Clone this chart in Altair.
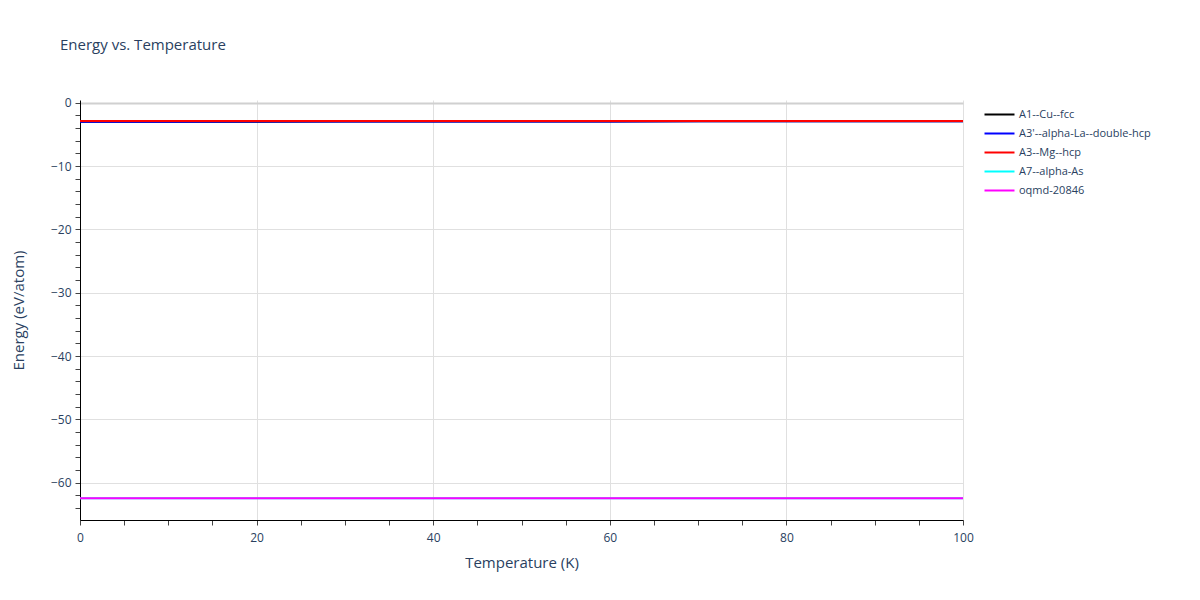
import altair as alt
import pandas as pd

temps = [0, 10, 20, 30, 40, 50, 60, 70, 80, 90, 100]
cu_fcc = [-3.00, -2.99, -2.98, -2.97, -2.96, -2.95, -2.94, -2.93, -2.92, -2.92, -2.91]
la_dhcp = [-2.99, -2.98, -2.97, -2.96, -2.95, -2.95, -2.94, -2.93, -2.92, -2.91, -2.91]
mg_hcp = [-2.88, -2.88, -2.88, -2.88, -2.88, -2.88, -2.88, -2.88, -2.88, -2.88, -2.88]
as_a7 = [-62.46, -62.46, -62.46, -62.46, -62.46, -62.46, -62.46, -62.46, -62.46, -62.46, -62.46]
oqmd = [-62.46, -62.46, -62.46, -62.46, -62.46, -62.46, -62.46, -62.46, -62.46, -62.46, -62.45]

series_names = ["A1--Cu--fcc", "A3'--alpha-La--double-hcp", "A3--Mg--hcp", "A7--alpha-As", "oqmd-20846"]
series_colors = ["#000000", "#0000ff", "#ff0000", "#00ffff", "#ff00ff"]
series_values = [cu_fcc, la_dhcp, mg_hcp, as_a7, oqmd]

rows = []
for name, vals in zip(series_names, series_values):
    for t, v in zip(temps, vals):
        rows.append({"T": t, "E": v, "structure": name})
df = pd.DataFrame(rows)

x_ticks = list(range(0, 101, 5))
y_ticks = list(range(-64, 1, 2))

TXT = "#2a3f5f"
FONT = "Open Sans"
Y_DOMAIN = [-65.9, 0.44]

chart = alt.Chart(df).mark_line(strokeWidth=2, clip=True).encode(
    x=alt.X(
        "T:Q",
        title="Temperature (K)",
        scale=alt.Scale(domain=[0, 100], nice=False),
        axis=alt.Axis(
            values=x_ticks,
            labelExpr="datum.value % 20 == 0 ? datum.label : ''",
            gridOpacity={"condition": {"test": "datum.value % 20 == 0 && datum.value > 0", "value": 1}, "value": 0},
            tickSize=5,
            labelPadding=7,
            titlePadding=12,
            labelOverlap=False,
            labelFlush=False,
        ),
    ),
    y=alt.Y(
        "E:Q",
        title="Energy (eV/atom)",
        scale=alt.Scale(domain=Y_DOMAIN, nice=False, zero=False),
        axis=alt.Axis(
            values=y_ticks,
            labelExpr="datum.value % 10 == 0 ? datum.label : ''",
            gridOpacity={"condition": {"test": "datum.value % 10 == 0", "value": 1}, "value": 0},
            gridWidth={"condition": {"test": "datum.value == 0", "value": 2}, "value": 1},
            gridColor={"condition": {"test": "datum.value == 0", "value": "#d0d0d0"}, "value": "#e0e0e0"},
            tickSize=5,
            labelPadding=4,
            titlePadding=24,
            labelOverlap=False,
            labelFlush=False,
        ),
    ),
    color=alt.Color(
        "structure:N",
        scale=alt.Scale(domain=series_names, range=series_colors),
        legend=alt.Legend(
            title=None,
            orient="none",
            legendX=911,
            legendY=6,
            symbolType="M-2,0L2,0",
            symbolSize=225,
            symbolStrokeWidth=2,
            labelOffset=11,
            rowPadding=5,
            padding=0,
            labelFontSize=11,
            labelFont=FONT,
            labelColor=TXT,
        ),
    ),
).properties(
    width=883,
    height=420,
    autosize=alt.AutoSizeParams(type="none"),
    padding={"left": 72, "top": 92, "right": 229, "bottom": 70},
    title=alt.TitleParams(
        "Energy vs. Temperature",
        anchor="start",
        frame="group",
        dx=-20,
        offset=44,
        fontSize=15,
        font=FONT,
        fontWeight="normal",
        color=TXT,
    ),
).configure_view(stroke=None).configure_axis(
    gridColor="#e0e0e0",
    domainColor="#000000",
    tickColor="#444444",
    labelColor=TXT,
    labelFont=FONT,
    labelFontSize=12,
    titleColor=TXT,
    titleFont=FONT,
    titleFontSize=15,
    titleFontWeight="normal",
)

chart.save("out.html", embed_options={"renderer": "svg", "actions": False})
